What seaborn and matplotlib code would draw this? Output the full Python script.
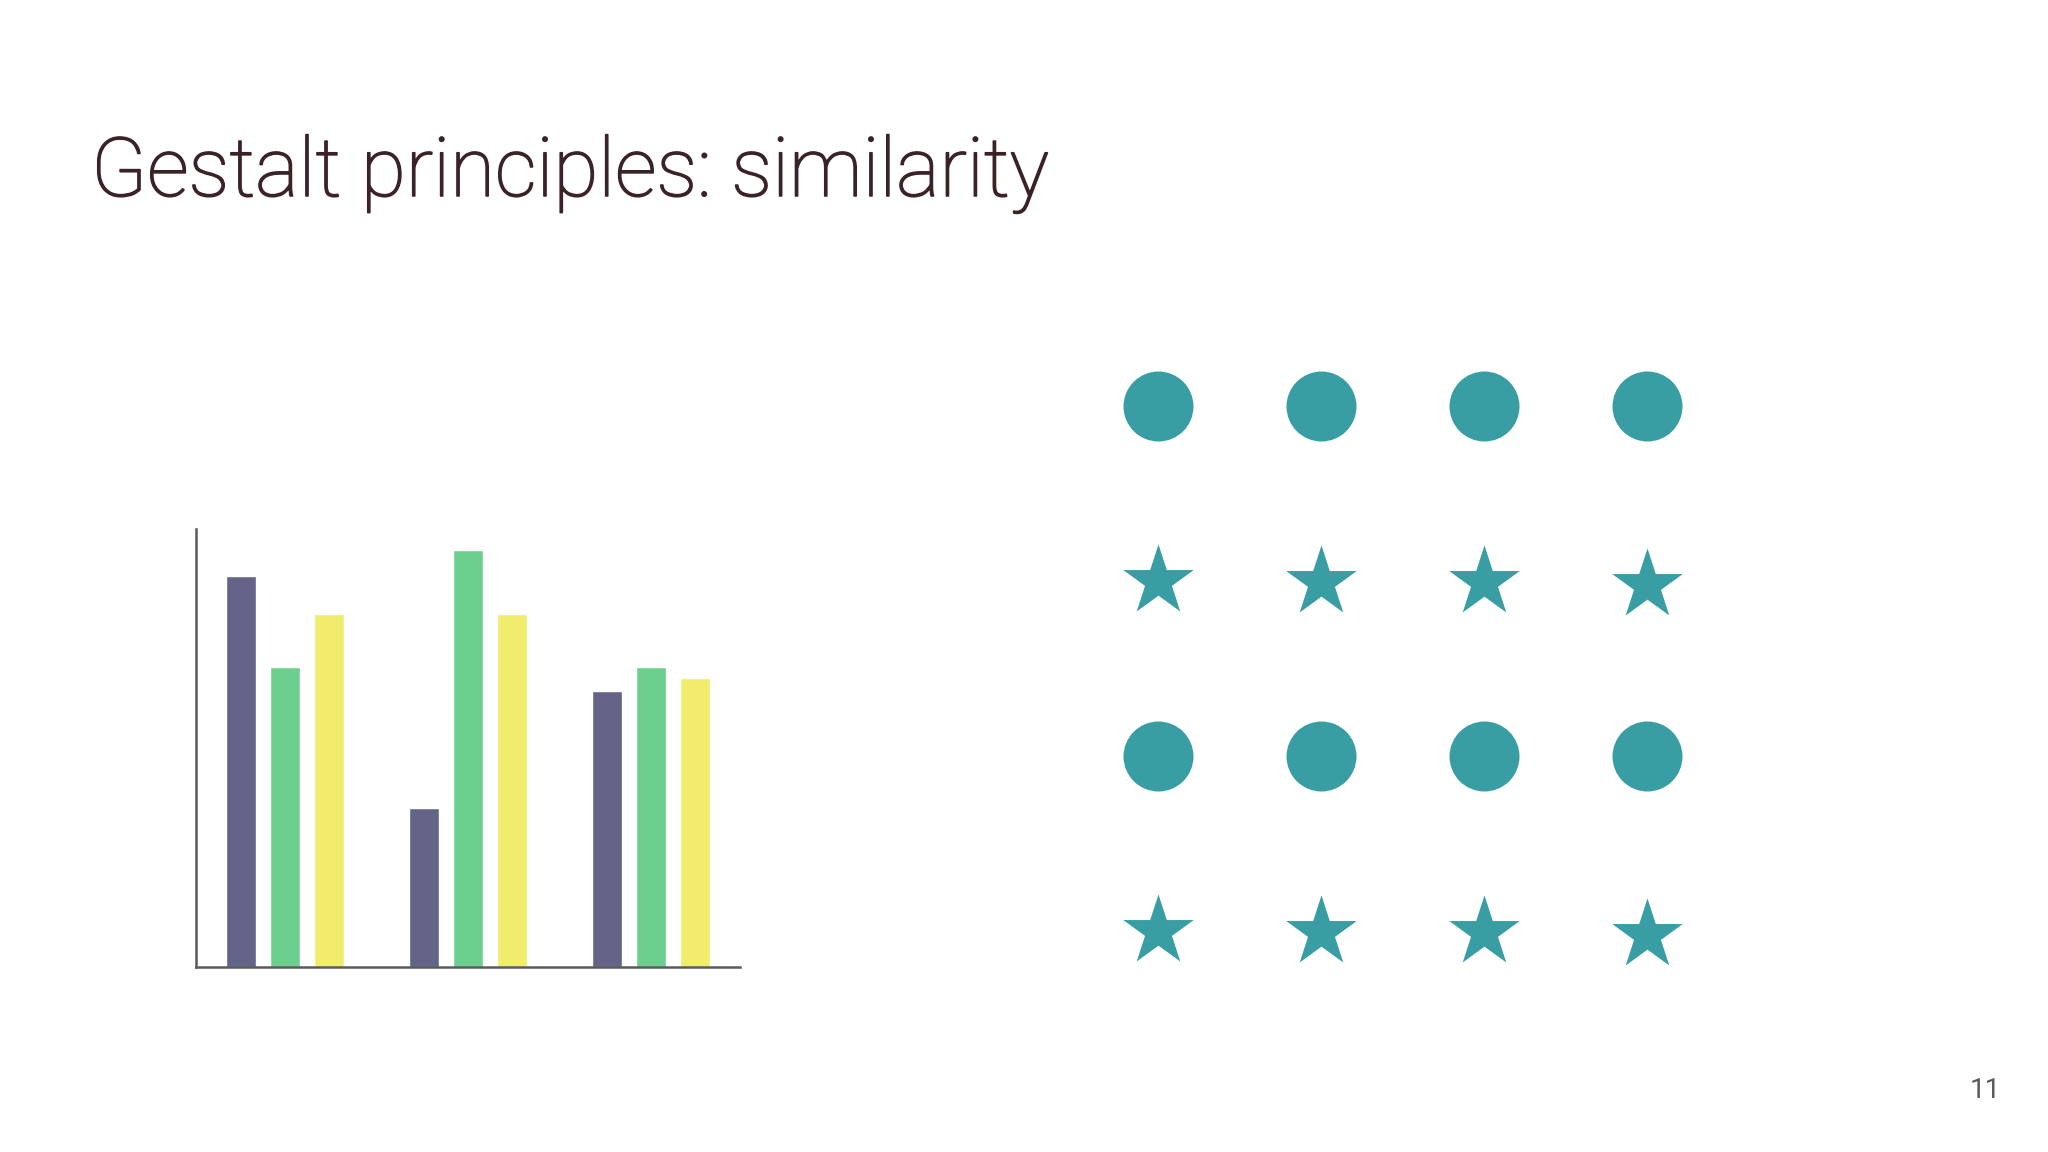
import matplotlib
matplotlib.use("Agg")
import matplotlib.pyplot as plt
import matplotlib.patheffects as pe
import seaborn as sns
import pandas as pd

# ---- data ----
groups = ["A", "B", "C"]
series = ["s1", "s2", "s3"]
s1_values = [8.93, 3.62, 6.30]
s2_values = [6.85, 9.52, 6.85]
s3_values = [8.06, 8.06, 6.59]
bar_colors = ["#636488", "#6dcf8d", "#efed6b"]

grid_cols = [0, 1, 2, 3]
circle_rows = [0, 2]
star_rows = [1, 3]
star_col_offset = [0.0, 0.005, 0.005, 0.02]
teal = "#389ea3"

title_text = "Gestalt principles: similarity"
page_number = "11"

# ---- style ----
sns.set_theme(style="white")
plt.rcParams['font.family'] = ['Roboto', 'DejaVu Sans']

W, H = 2048, 1152
fig = plt.figure(figsize=(W / 100, H / 100), dpi=100)
fig.patch.set_facecolor("white")

# ---- bar chart ----
ax = fig.add_axes([196 / W, 1 - 966.5 / H, (740 - 196) / W, (966.5 - 529) / H])
df = pd.DataFrame({
    "group": groups * 3,
    "series": [s for s in series for _ in groups],
    "value": s1_values + s2_values + s3_values,
})
sns.barplot(data=df, x="group", y="value", hue="series", hue_order=series,
            palette=bar_colors, width=0.728, gap=0.324, saturation=1,
            legend=False, ax=ax, errorbar=None)
ax.set_xlim(-0.486, 2.486)
ax.set_ylim(0, 10)
ax.set_xlabel("")
ax.set_ylabel("")
ax.set_xticks([])
ax.set_yticks([])
for side in ["top", "right"]:
    ax.spines[side].set_visible(False)
for side in ["left", "bottom"]:
    ax.spines[side].set_color("#5a5a5a")
    ax.spines[side].set_linewidth(1.8)
ax.set_facecolor("white")

# ---- marker grid ----
ax2 = fig.add_axes([1076.5 / W, 1 - 1018.5 / H, 652 / W, 700 / H])
cx = [c for r in circle_rows for c in grid_cols]
cy = [r for r in circle_rows for c in grid_cols]
sx = [c for r in star_rows for c in grid_cols]
sy = [r + star_col_offset[c] for r in star_rows for c in grid_cols]
sns.scatterplot(x=cx, y=cy, marker="o", s=2540, color=teal, linewidth=0, ax=ax2)
sns.scatterplot(x=sx, y=sy, marker="*", s=2850, color=teal, linewidth=0, ax=ax2)
ax2.set_xlim(-0.5, 3.5)
ax2.set_ylim(3.5, -0.5)
ax2.axis("off")

# ---- text ----
title_color = "#3b2226"
fig.text(91 / W, 1 - 196 / H, title_text, fontsize=59, fontweight="light",
         color=title_color, ha="left", va="baseline",
         path_effects=[pe.withStroke(linewidth=1.1, foreground=title_color)])
fig.text(2001 / W, 1 - 1098 / H, page_number, fontsize=20, color="#5a5a5a",
         ha="right", va="baseline")

fig.savefig("out.png", dpi=100)
